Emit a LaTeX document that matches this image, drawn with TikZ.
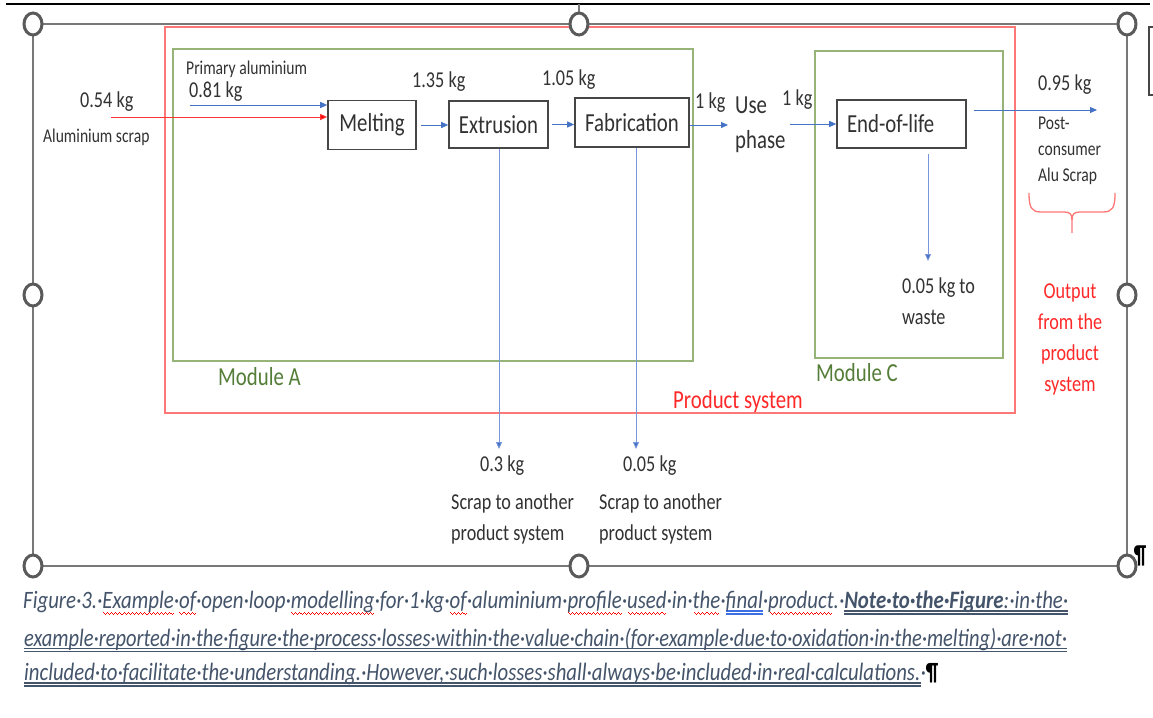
\documentclass[tikz,border=0pt]{standalone}
\usepackage{graphicx}
\usepackage{fontspec}
\setmainfont{Carlito}[FakeStretch=0.8]
\usetikzlibrary{arrows.meta}
\definecolor{tgray}{RGB}{50,50,50}
\definecolor{boxgray}{RGB}{70,70,70}
\definecolor{frred}{RGB}{255,120,120}
\definecolor{frgreen}{RGB}{150,180,120}
\definecolor{modgreen}{RGB}{84,125,55}
\definecolor{flowblue}{RGB}{68,114,196}
\definecolor{thinblue}{RGB}{120,150,220}
\definecolor{txtred}{RGB}{255,40,40}
\definecolor{capcol}{RGB}{68,84,106}
\definecolor{selgray}{RGB}{120,120,120}
\definecolor{handgray}{RGB}{90,90,90}
\definecolor{gramblue}{RGB}{60,110,230}
\newcommand\fbig{\fontsize{26}{35}\selectfont}
\newcommand\fmid{\fontsize{22.7}{31}\selectfont}
\newcommand\fsmall{\fontsize{19.5}{26}\selectfont}
\newsavebox\ulbox
\newcommand\wavebit{\textcolor{red}{\rule[-4.5pt]{1pt}{1.1pt}\rule[-5.5pt]{1pt}{1.1pt}\rule[-6.5pt]{1pt}{1.1pt}\rule[-5.5pt]{1pt}{1.1pt}}}
\newcommand\rw[1]{\sbox\ulbox{#1}\rlap{\hbox to \wd\ulbox{\cleaders\hbox{\wavebit}\hfill}}\usebox\ulbox}
\newcommand\bu[1]{\sbox\ulbox{#1}\rlap{\textcolor{gramblue}{\rule[-3pt]{\wd\ulbox}{1.2pt}}}\rlap{\textcolor{gramblue}{\rule[-6pt]{\wd\ulbox}{1.2pt}}}\usebox\ulbox}
\newcommand\gu[1]{\sbox\ulbox{#1}\rlap{\rule[-3pt]{\wd\ulbox}{1.2pt}}\rlap{\rule[-6pt]{\wd\ulbox}{1.2pt}}\usebox\ulbox}
\begin{document}
\begin{tikzpicture}[x=1pt,y=-1pt,
  txt/.style={inner sep=0, text=tgray, anchor=west},
  procbox/.style={draw=boxgray, line width=1.6, fill=white, inner sep=0, text=tgray, font=\fbig},
  flow/.style={draw=flowblue, line width=0.9, -{Triangle[length=7pt,width=6pt]}},
  flowthin/.style={draw=thinblue, line width=0.8, -{Triangle[length=7pt,width=6pt,fill=flowblue]}},
  scrapflow/.style={draw=red!80, line width=1, -{Triangle[length=7pt,width=6pt,fill=red]}},
  redframe/.style={draw=frred, line width=2},
  greenframe/.style={draw=frgreen, line width=2},
  bracered/.style={draw=frred, line width=1.3},
  selframe/.style={draw=selgray, line width=2},
  handle/.style={draw=handgray, line width=3, fill=white},
  captxt/.style={inner sep=0, anchor=west, text=capcol, font=\fontsize{25}{30}\selectfont\itshape}]
\useasboundingbox (0,0) rectangle (1153,717);
\fill[white] (0,0) rectangle (1153,717);
% frames
\draw[redframe] (165,27) rectangle (1015,413);
\draw[greenframe] (173,49) rectangle (693,361);
\draw[greenframe] (815,51) rectangle (1003,358);
% process boxes
\node[procbox, minimum width=88, minimum height=49] (melt) at (372,125) {Melting};
\node[procbox, minimum width=99, minimum height=47] (extr) at (498.5,124.5) {Extrusion};
\node[procbox, minimum width=114, minimum height=49] (fabr) at (632,122.5) {Fabrication};
\node[procbox, minimum width=129, minimum height=48, text width=109, align=left, inner xsep=10] (eol) at (901.5,124) {End-of-life};
% texts
\node[txt, font=\fsmall] (prim) at (186,69) {Primary aluminium};
\node[txt, font=\fmid] (p081) at (189,92) {0.81 kg};
\node[txt, font=\fmid] (s054) at (80,102) {0.54 kg};
\node[txt, font=\fsmall] (alscr) at (43,137) {Aluminium scrap};
\node[txt, font=\fmid] (k135) at (412,82) {1.35 kg};
\node[txt, font=\fmid] (k105) at (542,80) {1.05 kg};
\node[txt, font=\fmid] (k1a) at (695,103) {1 kg};
\node[txt, font=\fbig, align=left] (use) at (735,124.5) {Use\\phase};
\node[txt, font=\fmid] (k1b) at (782,100) {1 kg};
\node[txt, font=\fmid] (k095) at (1038,85) {0.95 kg};
\node[txt, font=\fsmall, align=left] (post) at (1038,151) {Post-\\consumer\\Alu Scrap};
\node[txt, font=\fmid, align=left] (waste) at (902,301.5) {0.05 kg to\\waste};
\node[txt, anchor=center, font=\fmid, text=txtred, align=center] (outp) at (1070,339.5) {Output\\from the\\product\\system};
\node[txt, font=\fbig, text=modgreen] (modA) at (218,377) {Module A};
\node[txt, font=\fbig, text=modgreen] (modC) at (816,373) {Module C};
\node[txt, font=\fbig, text=txtred] (prodsys) at (673,402) {Product system};
\node[txt, font=\fmid] (k03) at (480,466) {0.3 kg};
\node[txt, font=\fmid] (k005) at (623,466) {0.05 kg};
\node[txt, font=\fmid, align=left] (scr1) at (451,519) {Scrap to another\\product system};
\node[txt, font=\fmid, align=left] (scr2) at (599,519) {Scrap to another\\product system};
% flows
\coordinate (pstart) at (190,105);
\draw[flow] (pstart) -- (pstart -| melt.west);
\coordinate (sstart) at (111,117);
\draw[scrapflow] (sstart) -- (sstart -| melt.west);
\draw[flow, shorten <=4pt] (melt.east) -- (melt.east -| extr.west);
\draw[flow, shorten <=3pt] (extr.east) -- (extr.east -| fabr.west);
\draw[flow, shorten >=7pt] (fabr.east |- melt.east) -- (melt.east -| use.west);
\draw[flow] ([xshift=4pt]use.east |- eol.west) -- (eol.west);
\coordinate (scrapout) at (1097,110);
\draw[flow] ([xshift=7pt]eol.east |- scrapout) -- (scrapout);
\coordinate (x3) at (499,449);
\draw[flowthin] (x3 |- extr.south) -- (x3);
\coordinate (f3) at (636,449);
\draw[flowthin] (f3 |- fabr.south) -- (f3);
\coordinate (w3) at (928,261);
\draw[flowthin, shorten <=5pt] (w3 |- eol.south) -- (w3);
% brace
\draw[bracered] (1029,193) .. controls (1029,207) and (1031,212) .. (1041,212) -- (1064,212) .. controls (1070,212) and (1072,214) .. (1072,220) -- (1072,233);
\draw[bracered] (1115,193) .. controls (1115,207) and (1113,212) .. (1103,212) -- (1080,212) .. controls (1074,212) and (1072,214) .. (1072,220);
% word page elements
\draw[black, line width=1.5] (6,4) -- (1150,4);
\draw[boxgray, line width=1.5] (1153,27) -- (1149,27) -- (1149,95) -- (1153,95);
\draw[selframe] (33,24) rectangle (1127,566);
\draw[selframe] (579,4) -- (579,13);
\node[inner sep=0, font=\fontsize{26}{30}\selectfont\bfseries] (pil) at (1140,556) {¶};
\foreach \hx/\hy in {33/24,579/24,1127/24,33/295,1127/295,33/566,579/566,1127/566}
  \draw[handle] (\hx,\hy) ellipse [x radius=9pt, y radius=11pt];
% caption
\node[captxt] (cap1) at (23,603) {\resizebox{1045pt}{\height}{Figure·3.·\rw{Example}·\rw{of}·open·loop·\rw{modelling}·for·1·kg·\rw{of}·aluminium·\rw{profile}·\rw{used}·in·\rw{the}·\bu{final}·\rw{product}.·\gu{\textbf{Note·to·the·Figure}:·in·the·}}};
\node[captxt] (cap2) at (24,640) {\resizebox{1043pt}{\height}{\gu{example·reported·in·the·figure·the·process·losses·within·the·value·chain·(for·example·due·to·oxidation·in·the·melting)·are·not·}}};
\node[captxt] (cap3) at (24,675) {\resizebox{914pt}{\height}{\gu{included·to·facilitate·the·understanding.·However,·such·losses·shall·always·be·included·in·real·calculations.}·{\color{black}\upshape\bfseries ¶}}};
\end{tikzpicture}
\end{document}
